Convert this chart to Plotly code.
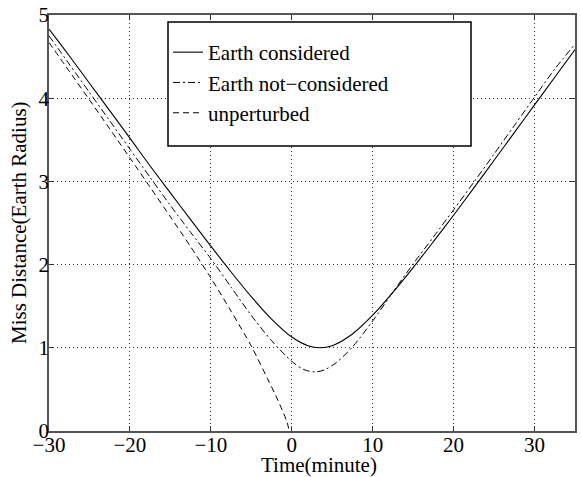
import plotly.graph_objects as go

# ---- data ----
t_earth = [-30, -27.5, -25, -22.5, -20, -17.5, -15, -12.5, -10, -7.5, -5, -2.5, 0, 2, 3.5, 5, 7.5, 10, 12.5, 15, 17.5, 20, 22.5, 25, 27.5, 30, 32.5, 35]
y_earth = [4.83, 4.51, 4.18, 3.85, 3.52, 3.185, 2.863, 2.54, 2.222, 1.911, 1.614, 1.345, 1.129, 1.025, 1.0, 1.025, 1.166, 1.392, 1.666, 1.964, 2.276, 2.593, 2.922, 3.254, 3.586, 3.919, 4.252, 4.583]

t_noearth = [-30, -27.5, -25, -22.5, -20, -17.5, -15, -12.5, -10, -7.5, -5, -2.5, 0, 1.5, 2.8, 4, 5.5, 7.5, 10, 12.5, 15, 17.5, 20, 22.5, 25, 27.5, 30, 32.5, 35]
y_noearth = [4.75, 4.41, 4.07, 3.729, 3.388, 3.048, 2.711, 2.388, 2.071, 1.729, 1.389, 1.086, 0.837, 0.738, 0.71, 0.733, 0.822, 1.01, 1.323, 1.671, 2.008, 2.331, 2.659, 2.991, 3.329, 3.671, 4.013, 4.35, 4.65]

t_unpert = [-30, -27.5, -25, -22.5, -20, -17.5, -15, -12.5, -10, -7.5, -5, -3, -2, -1, -0.6, -0.3]
y_unpert = [4.67, 4.325, 3.98, 3.632, 3.282, 2.93, 2.575, 2.215, 1.84, 1.44, 1.02, 0.63, 0.43, 0.21, 0.11, 0.0]

x_ticks = [-30, -20, -10, 0, 10, 20, 30]
x_tick_text = ["\u221230", "\u221220", "\u221210", "0", "10", "20", "30"]
y_ticks = [0, 1, 2, 3, 4, 5]

FONT = "Liberation Serif, Times New Roman, serif"

fig = go.Figure()
fig.add_trace(go.Scatter(x=t_earth, y=y_earth, mode="lines", name="Earth considered",
                         line=dict(color="black", width=1.1, shape="spline", smoothing=0.8)))
fig.add_trace(go.Scatter(x=t_noearth, y=y_noearth, mode="lines", name="Earth not\u2212considered",
                         line=dict(color="black", width=1, dash="7px,3px,2px,3px", shape="spline", smoothing=0.8)))
fig.add_trace(go.Scatter(x=t_unpert, y=y_unpert, mode="lines", name="unperturbed",
                         line=dict(color="black", width=1, dash="6px,4px", shape="spline", smoothing=0.8)))

axis_common = dict(
    showgrid=True, gridcolor="#333", griddash="1px,3px", gridwidth=1,
    showline=True, linecolor="#555", linewidth=1.5, mirror="ticks",
    ticks="inside", ticklen=5, tickcolor="#333", tickwidth=1,
    zeroline=False, automargin=False,
    tickfont=dict(family=FONT, size=21, color="black"),
)

fig.update_xaxes(range=[-30, 35], tickvals=x_ticks, ticktext=x_tick_text,
                 ticklabelstandoff=-6, **axis_common)
fig.update_yaxes(range=[0, 5], tickvals=y_ticks, ticklabelstandoff=-6, **axis_common)

PL, PR, PT, PB = 49, 575, 15, 431
W, H = PR - PL, PB - PT

fig.update_layout(
    width=581, height=477,
    margin=dict(l=PL, r=581 - PR, t=PT, b=477 - PB),
    paper_bgcolor="white", plot_bgcolor="white",
    font=dict(family=FONT, size=21, color="black"),
    showlegend=True,
    legend=dict(x=(168 - PL) / W, y=(PB - 32) / H, xanchor="left", yanchor="top",
                bgcolor="rgba(0,0,0,0)", borderwidth=0,
                font=dict(family=FONT, size=21, color="black"),
                tracegroupgap=0, itemwidth=30),
    shapes=[dict(type="rect", xref="paper", yref="paper",
                 x0=(168 - PL) / W, x1=(471 - PL) / W,
                 y0=(PB - 146) / H, y1=(PB - 22) / H,
                 line=dict(color="black", width=1.5), fillcolor="white", layer="above")],
    annotations=[
        dict(text="Time(minute)", xref="paper", yref="paper",
             x=(319 - PL) / W, y=(PB - 465) / H, xanchor="center", yanchor="middle",
             showarrow=False, font=dict(family=FONT, size=21, color="black")),
        dict(text="Miss Distance(Earth Radius)", xref="paper", yref="paper",
             x=(19 - PL) / W, y=(PB - 223) / H, xanchor="center", yanchor="middle",
             textangle=-90, showarrow=False, font=dict(family=FONT, size=21, color="black")),
    ],
)

fig.write_html("out.html", config={"displayModeBar": False},
               post_script="document.documentElement.style.margin='0';document.body.style.margin='0';document.body.style.overflow='hidden';")
